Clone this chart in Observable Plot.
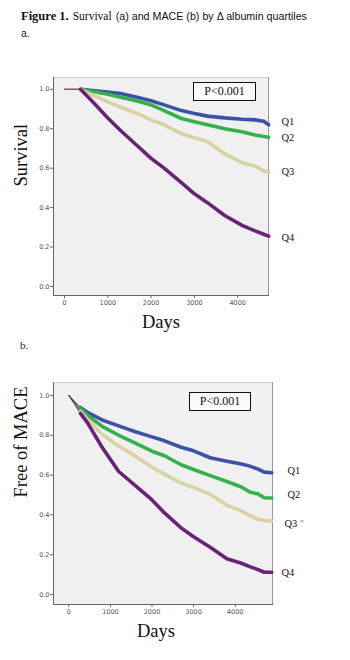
<!DOCTYPE html>
<html><head><meta charset="utf-8">
<script src="https://cdn.jsdelivr.net/npm/d3@7"></script>
<script src="https://cdn.jsdelivr.net/npm/@observablehq/plot@0.6"></script>
<style>
body{margin:0;background:#fff;width:350px;height:660px;position:relative;overflow:hidden}
.abs{position:absolute;white-space:nowrap}
.serif{font-family:"Liberation Serif","Times New Roman",serif}
.sans{font-family:"Liberation Sans",Arial,sans-serif}
.pbox{position:absolute;border:1px solid #111;box-sizing:border-box;background:#fafafa;
  font-family:"Liberation Serif",serif;font-size:12px;color:#111;text-align:center;line-height:17px}
</style></head><body>
<div class="abs" style="left:21px;top:6px;color:#111">
  <span class="serif" style="font-weight:bold;font-size:12.5px">Figure 1.</span>
  <span class="serif" style="font-size:11.5px">Survival</span>
  <span class="sans" style="font-size:10.7px">(a) and MACE (b) by Δ albumin quartiles</span>
</div>
<div class="abs sans" style="left:21px;top:27px;font-size:10.5px;color:#222">a.</div>
<div id="chartA" class="abs" style="left:0;top:60px"></div>
<div class="abs serif" style="left:20px;top:339px;font-size:11px;color:#222">b.</div>
<div id="chartB" class="abs" style="left:0;top:360px"></div>
<div class="pbox" style="left:193px;top:82px;width:63px;height:19px">P&lt;0.001</div>
<div class="pbox" style="left:189px;top:392px;width:62px;height:19px">P&lt;0.001</div>
<script>
// ---------- data ----------
const quartiles = ["Q1", "Q2", "Q3", "Q4"];
const xTicks = [0, 1000, 2000, 3000, 4000];
const yTicks = [0, 0.2, 0.4, 0.6, 0.8, 1.0];

// (a) Survival
const daysA = [0, 370, 700, 1000, 1300, 1700, 2000, 2300, 2700, 3000, 3300, 3700, 4100, 4400, 4600, 4715];
const survQ1 = [1, 1, 0.993, 0.986, 0.979, 0.958, 0.942, 0.921, 0.892, 0.877, 0.864, 0.855, 0.848, 0.845, 0.838, 0.82];
const survQ2 = [1, 1, 0.988, 0.975, 0.96, 0.94, 0.921, 0.892, 0.852, 0.835, 0.82, 0.80, 0.785, 0.768, 0.761, 0.757];
const survQ3 = [1, 1, 0.966, 0.936, 0.909, 0.875, 0.845, 0.82, 0.775, 0.754, 0.735, 0.672, 0.628, 0.61, 0.587, 0.58];
const survQ4 = [1, 1, 0.925, 0.855, 0.79, 0.71, 0.65, 0.60, 0.527, 0.47, 0.425, 0.36, 0.31, 0.282, 0.265, 0.255];
const labelYA = [0.838, 0.756, 0.584, 0.249];

// (b) Free of MACE
const daysB = [0, 280, 450, 800, 1200, 1600, 2000, 2300, 2700, 3000, 3400, 3800, 4150, 4350, 4550, 4700, 4880];
const maceQ1 = [1, 0.94, 0.915, 0.877, 0.847, 0.818, 0.792, 0.772, 0.74, 0.722, 0.687, 0.67, 0.656, 0.645, 0.63, 0.615, 0.612];
const maceQ2 = [1, 0.935, 0.90, 0.845, 0.80, 0.76, 0.72, 0.697, 0.652, 0.628, 0.597, 0.568, 0.54, 0.515, 0.505, 0.486, 0.485];
const maceQ3 = [1, 0.92, 0.88, 0.805, 0.745, 0.695, 0.64, 0.605, 0.56, 0.538, 0.503, 0.448, 0.42, 0.398, 0.378, 0.372, 0.37];
const maceQ4 = [1, 0.91, 0.862, 0.74, 0.618, 0.547, 0.475, 0.41, 0.335, 0.29, 0.238, 0.18, 0.157, 0.14, 0.125, 0.112, 0.112];
const labelYB = [0.623, 0.503, 0.357, 0.111];

// ---------- styling ----------
const colors = ["#3b52a6", "#35b14b", "#d8d3a2", "#6a2277"];
const serif = "Liberation Serif, Times New Roman, serif";

function toRows(days, seriesList) {
  const rows = [];
  seriesList.forEach((vals, i) => vals.forEach((v, j) => rows.push({q: quartiles[i], day: days[j], v, j})));
  return rows;
}

function chart(cfg) {
  const rows = toRows(cfg.days, cfg.series);
  const thin = rows.filter(d => d.j <= 1);
  const thick = rows.filter(d => d.j >= 1);
  const labels = quartiles.map((q, i) => ({q, v: cfg.labelY[i]}));
  return Plot.plot({
    width: 350, height: cfg.height,
    marginLeft: 53, marginRight: cfg.mr, marginTop: cfg.mt, marginBottom: cfg.mb,
    x: {domain: cfg.xDomain},
    y: {domain: cfg.yDomain},
    color: {domain: quartiles, range: colors},
    style: {fontFamily: "DejaVu Sans, sans-serif", fontSize: "6.5px", color: "#555", background: "transparent", overflow: "visible"},
    marks: [
      Plot.frame({fill: "#f0f0f0", stroke: null}),
      Plot.frame({anchor: "top", stroke: "#d0d0d0"}),
      Plot.frame({anchor: "right", stroke: "#9a9a9a"}),
      Plot.frame({anchor: "left", stroke: "#666"}),
      Plot.frame({anchor: "bottom", stroke: "#666"}),
      Plot.axisX({ticks: xTicks, tickFormat: d => String(d), tickSize: 3, tickPadding: 2, label: null, stroke: "#666"}),
      Plot.axisY({ticks: yTicks, tickFormat: d3.format(".1f"), tickSize: 3, tickPadding: 1, label: null, stroke: "#666"}),
      Plot.line(thin, {x: "day", y: "v", z: "q", stroke: cfg.thinColor, strokeWidth: 1}),
      Plot.line(thick, {x: "day", y: "v", z: "q", stroke: "q", strokeWidth: 3.6, strokeLinejoin: "round"}),
      ...labels.map((d, i) => Plot.text([d], {y: "v", text: "q", frameAnchor: "right", dx: cfg.labelDx[i], textAnchor: "start",
        fontFamily: serif, fontSize: 10.5, fill: "#111"})),
      ...(cfg.extra || []),
      Plot.text(["Days"], {text: d => d, frameAnchor: "bottom", dx: cfg.daysDx, dy: 32, fontFamily: serif, fontSize: 18.5, fill: "#111"}),
      Plot.text([cfg.yLabel], {text: d => d, frameAnchor: "left", dx: -32, dy: cfg.yLabelDy, rotate: -90, fontFamily: serif, fontSize: 18.5, fill: "#111"})
    ]
  });
}

document.getElementById("chartA").append(chart({
  height: 280, mt: 17, mb: 45, mr: 82,
  days: daysA, series: [survQ1, survQ2, survQ3, survQ4], labelY: labelYA,
  xDomain: [-254, 4711], yDomain: [-0.046, 1.06],
  thinColor: "#8a5c6c", labelDx: [13, 13, 13, 13], daysDx: 0,
  yLabel: "Survival", yLabelDy: 0
}));

document.getElementById("chartB").append(chart({
  height: 290, mt: 22, mb: 46, mr: 78,
  days: daysB, series: [maceQ1, maceQ2, maceQ3, maceQ4], labelY: labelYB,
  xDomain: [-368, 4897], yDomain: [-0.05, 1.065],
  thinColor: "#444", labelDx: [15, 15, 12, 9], daysDx: -7,
  yLabel: "Free of MACE", yLabelDy: 4,
  extra: [Plot.text([labelYB[2]], {y: d => d + 0.012, text: () => "∞", frameAnchor: "right", dx: 27, textAnchor: "start", fontSize: 6, fill: "#888"})]
}));
</script>
</body></html>
